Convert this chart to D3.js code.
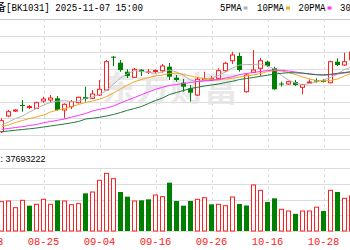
<!DOCTYPE html>
<html>
<head>
<meta charset="utf-8">
<script src="https://cdn.jsdelivr.net/npm/d3@7"></script>
<style>
  html, body { margin: 0; padding: 0; background: #fff; overflow: hidden; }
  svg { display: block; }
</style>
</head>
<body>
<svg id="chart" width="350" height="250"></svg>
<script>
// ================= DATA =================
// trading days shown on the x axis (08-13 / 08-14 and 11-04..11-07 fall outside the crop)
const allDays = ["08-13","08-14","08-15","08-18","08-19","08-20","08-21","08-22","08-25","08-26","08-27","08-28","08-29",
  "09-01","09-02","09-03","09-04","09-05","09-08","09-09","09-10","09-11","09-12","09-15","09-16","09-17","09-18","09-19",
  "09-22","09-23","09-24","09-25","09-26","09-29","09-30","10-09","10-10","10-13","10-14","10-15","10-16","10-17",
  "10-20","10-21","10-22","10-23","10-24","10-27","10-28","10-29","10-30","10-31","11-03","11-04","11-05","11-06","11-07"];
const dates = allDays.slice(2, 53);   // days with a visible candle
const tickLabels = ["08-13","08-25","09-04","09-16","09-26","10-16","10-28"];

const open  = [8056,8370,8470,8590,8540,8524,8670,8690,8724,8490,8556,8636,8750,8724,8790,8890,9556,9436,9256,9144,9296,9244,9260,9276,9356,9136,9036,8924,8790,9090,9090,9124,9276,9476,9570,8856,9244,9324,9456,9324,9020,9010,9050,8944,9030,9090,9080,9036,9456,9390,9490];
const high  = [8324,8490,8504,8690,8590,8656,8756,8790,8770,8624,8690,8756,8956,8890,9090,9490,9570,9490,9304,9330,9304,9310,9304,9410,9430,9190,9110,8990,9150,9256,9170,9324,9456,9656,9636,9224,9690,9530,9476,9356,9056,9076,9090,9006,9104,9124,9110,9476,9524,9636,9690];
const low   = [8030,8344,8450,8456,8510,8520,8636,8636,8476,8324,8510,8624,8656,8710,8770,8870,9370,9256,9130,9130,9170,9210,9224,9236,9090,9056,8856,8656,8770,9080,9076,9104,9256,9410,9256,8836,9244,9170,9350,8896,8956,8990,8970,8804,9030,9040,9040,9024,9370,9370,9470];
const close = [8276,8456,8490,8570,8560,8636,8710,8730,8490,8604,8656,8744,8710,8810,8904,9456,9536,9290,9170,9304,9256,9250,9280,9370,9156,9090,8956,8836,9104,9120,9116,9276,9424,9590,9290,9190,9290,9476,9370,8904,9000,9056,8990,9000,9050,9060,9050,9456,9390,9456,9650];
// volume, millions of shares
const volume = [17.6,18.0,14.0,18.4,15.2,16.0,19.0,16.0,18.4,18.0,15.8,16.4,22.6,23.4,30.4,34.6,31.4,23.4,20.6,18.0,18.4,19.0,21.6,20.6,29.0,
  18.0,15.2,18.0,19.0,20.0,16.0,16.0,15.2,20.4,16.2,15.3,27.6,24.4,17.4,19.6,13.0,12.0,10.3,12.0,12.0,14.3,12.0,24.4,23.4,19.6,21.1];
const lastVolume = "37693222";

const ma5  = [8190,8250,8320,8370,8450,8520,8590,8640,8666,8676,8660,8670,8724,8750,8800,8880,9010,9130,9220,9276,9264,9240,9224,9250,9290,
  9250,9180,9090,9060,9090,9130,9180,9250,9330,9390,9400,9400,9410,9370,9310,9180,9090,9030,8990,9020,9050,9090,9140,9210,9300,9350];
const ma10 = [8156,8190,8240,8280,8320,8350,8390,8450,8490,8520,8560,8600,8640,8670,8704,8760,8830,8910,8990,9056,9100,9140,9170,9190,9220,
  9230,9200,9170,9140,9120,9100,9090,9110,9124,9150,9170,9190,9220,9260,9280,9270,9240,9200,9150,9110,9080,9070,9080,9110,9170,9230];
const ma20 = [8104,8120,8140,8156,8180,8200,8234,8260,8284,8310,8350,8380,8420,8470,8504,8530,8570,8630,8686,8740,8796,8850,8904,8944,8980,
  9000,9020,9040,9060,9070,9084,9100,9130,9156,9200,9220,9240,9260,9280,9290,9284,9270,9250,9230,9210,9200,9190,9194,9210,9230,9256];
const ma30 = [8056,8070,8086,8100,8114,8130,8150,8170,8190,8210,8234,8260,8310,8324,8344,8370,8400,8440,8484,8520,8560,8620,8680,8730,8800,
  8840,8880,8920,8944,8970,8990,9010,9040,9064,9100,9120,9140,9164,9186,9206,9224,9236,9234,9226,9210,9194,9190,9204,9224,9240,9256];

const maNames  = ["5PMA","10PMA","20PMA","30PMA"];
const maColors = ["#b4b4b4","#f5a623","#ff33ff","#1f7a3a"];

// ================= LAYOUT =================
const W = 350, H = 250;
const red = "#ff2020", green = "#008000";
const mainTop = 19, mainBot = 134.5, mainRows = 7;
const volTop = 149, volGridTop = 168, volBot = 231, volRows = 4;
const step = 7;

const svg = d3.select("#chart");

const x = d3.scaleBand().domain(allDays).range([-16, -16 + step * allDays.length]);
const cx = d => x(d) + step / 2;

const y = d3.scaleLinear().domain([8000, 10310]).range([mainBot, mainTop]);
const yv = d3.scaleLinear().domain([0, 49.2]).range([volBot, volTop]);

// ================= GRID =================
const grid = svg.append("g");
d3.range(mainRows + 1).forEach(k => {
  const gy = Math.round(mainTop + k * (mainBot - mainTop) / mainRows) + 0.5;
  grid.append("line").attr("x1", 0).attr("x2", W).attr("y1", gy).attr("y2", gy)
    .attr("stroke", k === 0 ? "#c8c8c8" : "#dcdcdc");
});
[volTop].concat(d3.range(volRows + 1).map(k => volGridTop + k * (volBot - volGridTop) / volRows)).forEach(v => {
  const gy = Math.round(v) + 0.5;
  grid.append("line").attr("x1", 0).attr("x2", W).attr("y1", gy).attr("y2", gy).attr("stroke", "#dcdcdc");
});
tickLabels.forEach(t => {
  const gx = Math.round(cx(t)) + 0.5;
  [[mainTop, volTop], [volGridTop, volBot]].forEach(([a, b]) => {
    grid.append("line").attr("x1", gx).attr("x2", gx).attr("y1", a).attr("y2", b)
      .attr("stroke", "#dcdcdc").attr("stroke-dasharray", "3,3");
  });
});

// watermark
svg.append("text").attr("x", 170).attr("y", 101).attr("text-anchor", "middle")
  .attr("font-family", "'Noto Sans CJK SC'").attr("font-weight", "bold").attr("font-size", 34)
  .attr("fill", "#e4e4e4").attr("opacity", 0.8).text("东方财富");

// ================= CANDLES =================
const candles = svg.append("g").selectAll("g").data(dates).join("g");
candles.each(function(d, i) {
  const g = d3.select(this);
  const up = close[i] >= open[i];
  const c = up ? red : green;
  const px = Math.round(cx(d) - 0.5) + 0.5;
  g.append("line").attr("x1", px).attr("x2", px).attr("y1", y(high[i])).attr("y2", y(low[i]))
    .attr("stroke", c).attr("stroke-width", 1);
  const top = y(Math.max(open[i], close[i])), bot = y(Math.min(open[i], close[i]));
  if (up) {
    g.append("rect").attr("x", px - 2).attr("width", 4).attr("y", top).attr("height", Math.max(bot - top, 0.5))
      .attr("fill", "#fff").attr("stroke", c).attr("stroke-width", 1);
  } else {
    g.append("rect").attr("x", px - 2.5).attr("width", 5).attr("y", top).attr("height", Math.max(bot - top, 1))
      .attr("fill", c);
  }
});

// ================= MOVING AVERAGES =================
[ma5, ma10, ma20, ma30].forEach((s, k) => {
  svg.append("path").datum(s)
    .attr("fill", "none").attr("stroke", maColors[k]).attr("stroke-width", 1)
    .attr("d", d3.line().x((v, i) => cx(dates[i])).y(v => y(v)));
});

// ================= VOLUME =================
svg.append("rect").attr("x", 0).attr("y", volTop + 1).attr("width", W).attr("height", volGridTop - volTop - 1).attr("fill", "#fff");
svg.append("g").selectAll("rect").data(dates).join("rect")
  .each(function(d, i) {
    const up = i === 0 ? close[i] >= open[i] : close[i] >= close[i - 1];
    const px = Math.round(cx(d) - 0.5) + 0.5;
    const r = d3.select(this).attr("y", yv(volume[i])).attr("height", volBot - yv(volume[i]));
    if (up) r.attr("x", px - 2).attr("width", 4).attr("fill", "#fff").attr("stroke", red);
    else r.attr("x", px - 2.5).attr("width", 5).attr("fill", green);
  });

svg.append("text").attr("x", 0.5).attr("y", 161).attr("text-anchor", "end")
  .attr("font-family", "'Noto Sans CJK SC'").attr("font-size", 9).text("成交量");
svg.append("text").attr("x", 0.5).attr("y", 161.5)
  .attr("font-family", "Arial, 'Liberation Sans'").attr("font-size", 9).attr("fill", "#000")
  .text(": " + lastVolume);

// ================= X AXIS LABELS =================
svg.append("g").selectAll("text").data(tickLabels).join("text")
  .attr("x", d => cx(d)).attr("y", 245).attr("text-anchor", "middle")
  .attr("font-family", "'Liberation Mono', monospace").attr("font-size", 10.5).attr("fill", red)
  .text(d => d);

// ================= HEADER =================
svg.append("text").attr("x", 6).attr("y", 10.5).attr("text-anchor", "end")
  .attr("font-family", "'Noto Sans CJK SC'").attr("font-size", 11).text("光伏设备");
svg.append("text").attr("x", 6).attr("y", 10.5)
  .attr("font-family", "'Liberation Mono', monospace").attr("font-size", 11)
  .attr("textLength", 137).attr("lengthAdjust", "spacingAndGlyphs")
  .text("[BK1031] 2025-11-07 15:00");

const legendX = [220, 257, 298.5, 340];
maNames.forEach((n, k) => {
  svg.append("text").attr("x", legendX[k]).attr("y", 10.5)
    .attr("font-family", "'Liberation Mono', monospace").attr("font-size", 10.5)
    .attr("textLength", n.length * 5.4).attr("lengthAdjust", "spacingAndGlyphs").text(n);
  svg.append("rect").attr("x", legendX[k] + n.length * 5.4 + 2).attr("y", 6.5).attr("width", 4).attr("height", 3)
    .attr("fill", maColors[k]);
});
</script>
</body>
</html>
